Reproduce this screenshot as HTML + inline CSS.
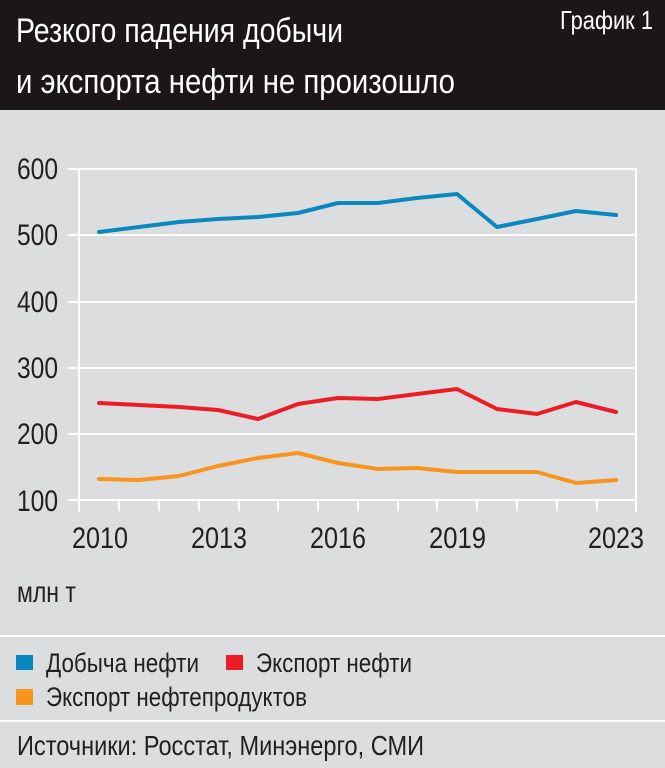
<!DOCTYPE html>
<html>
<head>
<meta charset="utf-8">
<style>
html,body{margin:0;padding:0;background:#dcdddf;}
svg{display:block;}
text{font-family:"Liberation Sans Narrow","Liberation Sans","DejaVu Sans",sans-serif;}
</style>
</head>
<body>
<svg width="665" height="768" viewBox="0 0 665 768" xmlns="http://www.w3.org/2000/svg">
  <rect x="0" y="0" width="665" height="768" fill="#dcdddf"/>
  <rect x="0" y="0" width="665" height="110" fill="#1b1718"/>
  <text x="16" y="42" font-size="34" fill="#ffffff" textLength="327" lengthAdjust="spacingAndGlyphs">Резкого падения добычи</text>
  <text x="16" y="93" font-size="34" fill="#ffffff" textLength="439" lengthAdjust="spacingAndGlyphs">и экспорта нефти не произошло</text>
  <text x="560" y="29" font-size="26" fill="#ffffff" textLength="93" lengthAdjust="spacingAndGlyphs">График 1</text>

  <!-- grid -->
  <g stroke="#ffffff" stroke-width="2" fill="none">
    <line x1="68" y1="169" x2="637" y2="169"/>
    <line x1="68" y1="235" x2="637" y2="235"/>
    <line x1="68" y1="302" x2="637" y2="302"/>
    <line x1="68" y1="368" x2="637" y2="368"/>
    <line x1="68" y1="434" x2="637" y2="434"/>
    <line x1="68" y1="500" x2="637" y2="500"/>
    <line x1="79" y1="168" x2="79" y2="512"/>
    <line x1="636" y1="168" x2="636" y2="512"/>
    <line x1="119" y1="500" x2="119" y2="511"/>
    <line x1="159" y1="500" x2="159" y2="511"/>
    <line x1="199" y1="500" x2="199" y2="511"/>
    <line x1="239" y1="500" x2="239" y2="511"/>
    <line x1="278" y1="500" x2="278" y2="511"/>
    <line x1="318" y1="500" x2="318" y2="511"/>
    <line x1="358" y1="500" x2="358" y2="511"/>
    <line x1="398" y1="500" x2="398" y2="511"/>
    <line x1="437" y1="500" x2="437" y2="511"/>
    <line x1="477" y1="500" x2="477" y2="511"/>
    <line x1="517" y1="500" x2="517" y2="511"/>
    <line x1="557" y1="500" x2="557" y2="511"/>
    <line x1="597" y1="500" x2="597" y2="511"/>
  </g>

  <!-- y labels -->
  <g font-size="30" fill="#231f20">
    <text x="17" y="179" textLength="41" lengthAdjust="spacingAndGlyphs">600</text>
    <text x="17" y="245" textLength="41" lengthAdjust="spacingAndGlyphs">500</text>
    <text x="17" y="312" textLength="41" lengthAdjust="spacingAndGlyphs">400</text>
    <text x="17" y="378" textLength="41" lengthAdjust="spacingAndGlyphs">300</text>
    <text x="17" y="444" textLength="41" lengthAdjust="spacingAndGlyphs">200</text>
    <text x="17" y="511" textLength="41" lengthAdjust="spacingAndGlyphs">100</text>
  </g>
  <!-- x labels -->
  <g font-size="30" fill="#231f20">
    <text x="72" y="548" textLength="56" lengthAdjust="spacingAndGlyphs">2010</text>
    <text x="191" y="548" textLength="56" lengthAdjust="spacingAndGlyphs">2013</text>
    <text x="310" y="548" textLength="56" lengthAdjust="spacingAndGlyphs">2016</text>
    <text x="429" y="548" textLength="57" lengthAdjust="spacingAndGlyphs">2019</text>
    <text x="588" y="548" textLength="56" lengthAdjust="spacingAndGlyphs">2023</text>
  </g>
  <text x="17" y="602" font-size="30" fill="#231f20" textLength="59" lengthAdjust="spacingAndGlyphs">млн т</text>

  <!-- series -->
  <g fill="none" stroke-width="4" stroke-linejoin="round" stroke-linecap="round">
    <polyline stroke="#0a88bd" points="99,232 139,227 179,222 218,219 258,217 298,213 338,203 378,203 417,198 457,194 497,227 537,219 576,211 616,215"/>
    <polyline stroke="#ed1c24" points="99,403 139,405 179,407 218,410 258,419 298,404 338,398 378,399 417,394 457,389 497,409 537,414 576,402 616,412"/>
    <polyline stroke="#f7941d" points="99,479 139,480 179,476 218,466 258,458 298,453 338,463 378,469 417,468 457,472 497,472 537,472 576,483 616,480"/>
  </g>

  <!-- separators -->
  <rect x="0" y="635" width="665" height="2" fill="#ffffff"/>
  <rect x="0" y="720" width="665" height="2" fill="#ffffff"/>

  <!-- legend -->
  <rect x="16" y="655" width="17" height="15" fill="#0a88bd"/>
  <text x="46" y="672" font-size="27" fill="#231f20" textLength="153" lengthAdjust="spacingAndGlyphs">Добыча нефти</text>
  <rect x="226" y="655" width="17" height="15" fill="#ed1c24"/>
  <text x="256" y="672" font-size="27" fill="#231f20" textLength="156" lengthAdjust="spacingAndGlyphs">Экспорт нефти</text>
  <rect x="16" y="689" width="17" height="16" fill="#f7941d"/>
  <text x="46" y="706" font-size="27" fill="#231f20" textLength="261" lengthAdjust="spacingAndGlyphs">Экспорт нефтепродуктов</text>

  <text x="17" y="755" font-size="28" fill="#231f20" textLength="407" lengthAdjust="spacingAndGlyphs">Источники: Росстат, Минэнерго, СМИ</text>
</svg>
</body>
</html>
